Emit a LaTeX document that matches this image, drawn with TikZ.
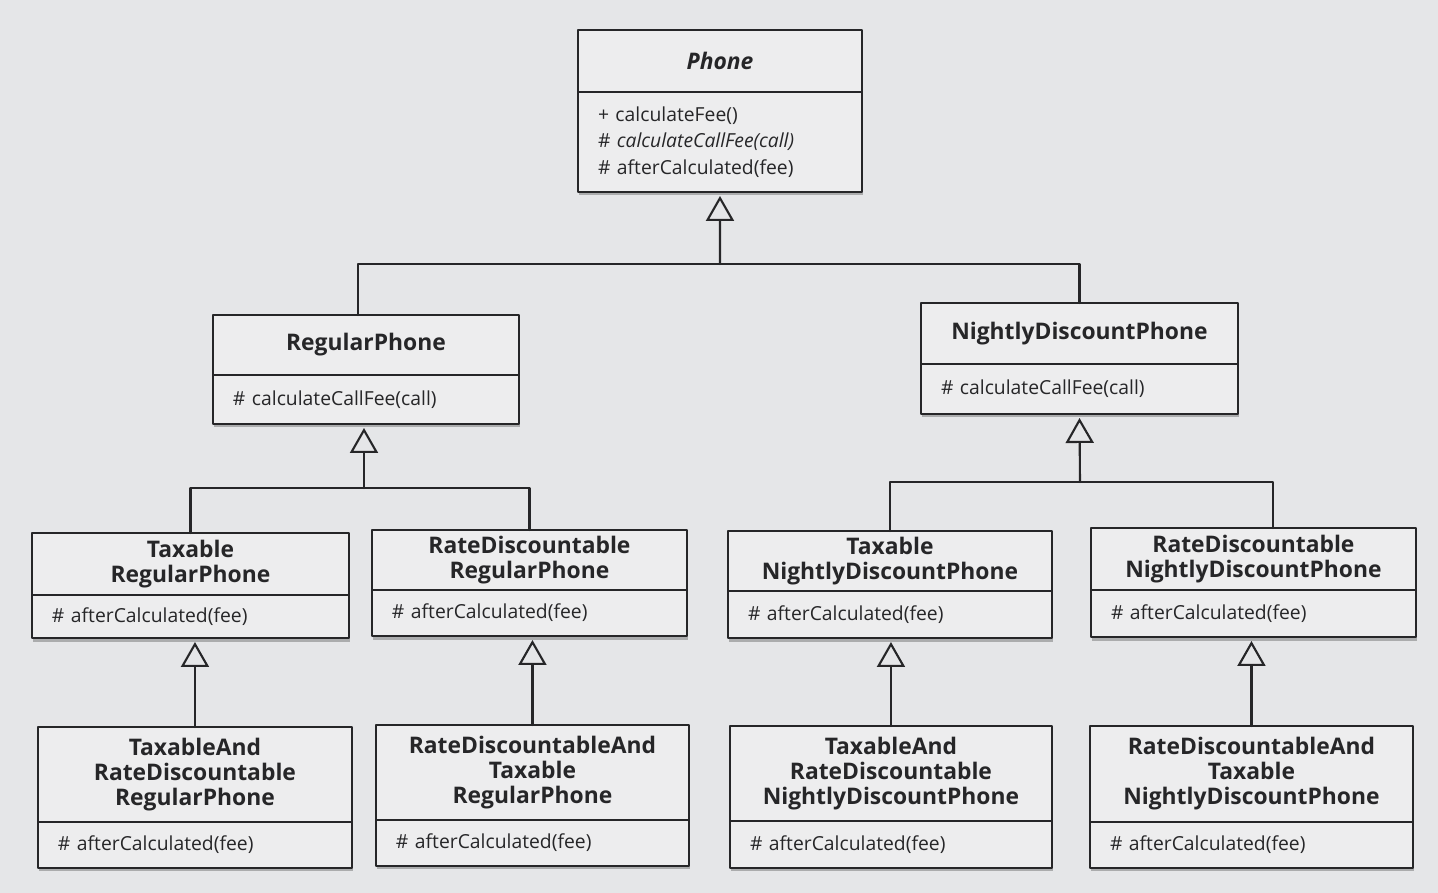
\documentclass[tikz,border=0pt]{standalone}
\usepackage{fontspec}
\setmainfont{Open Sans}
\usepackage{xcolor}
\usepackage{tikz}
\usetikzlibrary{arrows.meta,calc,positioning,shadows}

\definecolor{paper}{RGB}{229,230,232}
\definecolor{boxfill}{RGB}{237,237,238}
\definecolor{ink}{RGB}{38,38,40}

\begin{document}
\begin{tikzpicture}[x=0.02cm,y=-0.02cm, line cap=round,line join=round,
  head/.style={draw=ink, fill=boxfill, line width=1.1pt, text=ink, anchor=north west,
    inner sep=0pt, outer sep=0pt, align=center, font=\fontsize{13}{14.2}\selectfont\bfseries},
  body/.style={draw=ink, fill=boxfill, line width=1.1pt, text=ink, anchor=north west,
    inner xsep=0.4cm, inner ysep=0pt, outer sep=0pt, align=left, text width=#1,
    font=\fontsize{11}{15}\selectfont,
    drop shadow={shadow xshift=0.6pt, shadow yshift=-2pt, opacity=0.25, fill=black}},
  wire/.style={draw=ink, line width=1.2pt},
  inherit/.style={wire, -{Triangle[open, width=0.56cm, length=0.5cm, line width=1.2pt]}, shorten >=0.08cm}]
\fill[paper] (0,0) rectangle (1438,893);
\useasboundingbox (0,0) rectangle (1438,893);

% top
\node[head, minimum width=5.68cm, minimum height=1.24cm] (Phone) at (578,30) {\itshape Phone};
\node[body=4.88cm, minimum height=2.00cm] (PhoneM) at (Phone.south west)
  {+ calculateFee()\\\# \textit{calculateCallFee(call)}\\\# afterCalculated(fee)};

% 2nd level
\node[head, minimum width=6.12cm, minimum height=1.20cm] (Reg) at (213,315) {RegularPhone};
\node[body=5.32cm, minimum height=0.98cm] (RegM) at (Reg.south west) {\# calculateCallFee(call)};
\node[head, minimum width=6.34cm, minimum height=1.22cm] (Night) at (921,303) {NightlyDiscountPhone};
\node[body=5.54cm, minimum height=1.00cm] (NightM) at (Night.south west) {\# calculateCallFee(call)};

% 3rd level
\node[head, minimum width=6.34cm, minimum height=1.24cm] (TaxReg) at (32,533) {Taxable\\RegularPhone};
\node[body=5.54cm, minimum height=0.86cm] (TaxRegM) at (TaxReg.south west) {\# afterCalculated(fee)};
\node[head, minimum width=6.30cm, minimum height=1.20cm] (RateReg) at (372,530) {RateDiscountable\\RegularPhone};
\node[body=5.50cm, minimum height=0.92cm] (RateRegM) at (RateReg.south west) {\# afterCalculated(fee)};
\node[head, minimum width=6.48cm, minimum height=1.20cm] (TaxNight) at (728,531) {Taxable\\NightlyDiscountPhone};
\node[body=5.68cm, minimum height=0.94cm] (TaxNightM) at (TaxNight.south west) {\# afterCalculated(fee)};
\node[head, minimum width=6.50cm, minimum height=1.24cm] (RateNight) at (1091,528) {RateDiscountable\\NightlyDiscountPhone};
\node[body=5.70cm, minimum height=0.94cm] (RateNightM) at (RateNight.south west) {\# afterCalculated(fee)};

% 4th level
\node[head, minimum width=6.28cm, minimum height=1.90cm] (TaxRateReg) at (38,727) {TaxableAnd\\RateDiscountable\\RegularPhone};
\node[body=5.48cm, minimum height=0.92cm] (TaxRateRegM) at (TaxRateReg.south west) {\# afterCalculated(fee)};
\node[head, minimum width=6.26cm, minimum height=1.90cm] (RateTaxReg) at (376,725) {RateDiscountableAnd\\Taxable\\RegularPhone};
\node[body=5.46cm, minimum height=0.92cm] (RateTaxRegM) at (RateTaxReg.south west) {\# afterCalculated(fee)};
\node[head, minimum width=6.44cm, minimum height=1.90cm] (TaxRateNight) at (730,726) {TaxableAnd\\RateDiscountable\\NightlyDiscountPhone};
\node[body=5.64cm, minimum height=0.94cm] (TaxRateNightM) at (TaxRateNight.south west) {\# afterCalculated(fee)};
\node[head, minimum width=6.46cm, minimum height=1.92cm] (RateTaxNight) at (1090,726) {RateDiscountableAnd\\Taxable\\NightlyDiscountPhone};
\node[body=5.66cm, minimum height=0.92cm] (RateTaxNightM) at (RateTaxNight.south west) {\# afterCalculated(fee)};

% junctions
\coordinate (J) at (720,264);
\coordinate (JR) at (364,488);
\coordinate (JN) at (1080,482);
\coordinate (RL) at (358,315);
\coordinate (RN) at (1273,528);

\draw[inherit] (J) -- (PhoneM.south);
\draw[wire] (RL) |- (J) -| (Night.north);
\draw[inherit] (JR) -- (JR |- RegM.south);
\draw[wire] (TaxReg.north) |- (JR) -| (RateReg.north);
\draw[inherit] (JN) -- (NightM.south);
\draw[wire] (TaxNight.north) |- (JN) -| (RN);

\draw[inherit] (TaxRateReg.north) -- (TaxRateReg.north |- TaxRegM.south);
\draw[inherit] (RateTaxReg.north) -- (RateTaxReg.north |- RateRegM.south);
\draw[inherit] (TaxRateNight.north) -- (TaxRateNight.north |- TaxNightM.south);
\draw[inherit] (RateTaxNight.north) -- (RateTaxNight.north |- RateNightM.south);
\end{tikzpicture}
\end{document}
